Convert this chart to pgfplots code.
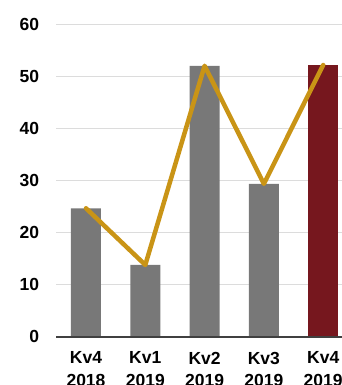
\documentclass[border=0pt]{standalone}
\usepackage{pgfplots}
\pgfplotsset{compat=1.18}
\usepackage{fontspec}
\setmainfont{Liberation Sans}
\definecolor{bargray}{HTML}{787878}
\definecolor{barred}{HTML}{76171E}
\definecolor{goldc}{HTML}{C99416}
\definecolor{gridc}{HTML}{DCDCDC}
\definecolor{basec}{HTML}{404040}
\begin{document}
\begin{tikzpicture}[x=1pt,y=1pt]
\begin{axis}[
  at={(56.35pt,48.3pt)}, anchor=south west,
  scale only axis, width=296.5pt, height=312pt,
  xmin=-0.5, xmax=4.5, ymin=0, ymax=60,
  xtick={0,1,2,3,4},
  xticklabels={{Kv4\\2018},{Kv1\\2019},{Kv2\\2019},{Kv3\\2019},{Kv4\\2019}},
  ytick={0,10,20,30,40,50,60},
  axis line style={draw=none},
  major tick length=0pt,
  ymajorgrids, grid style={gridc, line width=1.5pt},
  tick label style={font=\fontsize{17.5}{22.5}\selectfont\bfseries, text=black},
  /pgf/number format/assume math mode=true,
  yticklabel style={anchor=east, inner sep=0pt, xshift=-17pt},
  xticklabel style={anchor=north, inner sep=0pt, yshift=-15pt, align=center},
  clip=false,
]
\addplot[ybar, bar width=30pt, bar shift=0pt, fill=bargray, draw=none] coordinates {(0,24.7) (1,13.8) (2,52.1) (3,29.4)};
\addplot[ybar, bar width=30pt, bar shift=0pt, fill=barred, draw=none] coordinates {(4,52.25)};
\draw[basec, line width=2pt] (axis cs:-0.5,0) -- (axis cs:4.5,0);
\addplot[goldc, line width=4.5pt, line join=round, line cap=round] coordinates {(0,24.7) (1,13.8) (2,52.1) (3,29.4) (4,52.25)};
\end{axis}
\pgfresetboundingbox
\path (0,0) rectangle (342,385);
\end{tikzpicture}
\end{document}
